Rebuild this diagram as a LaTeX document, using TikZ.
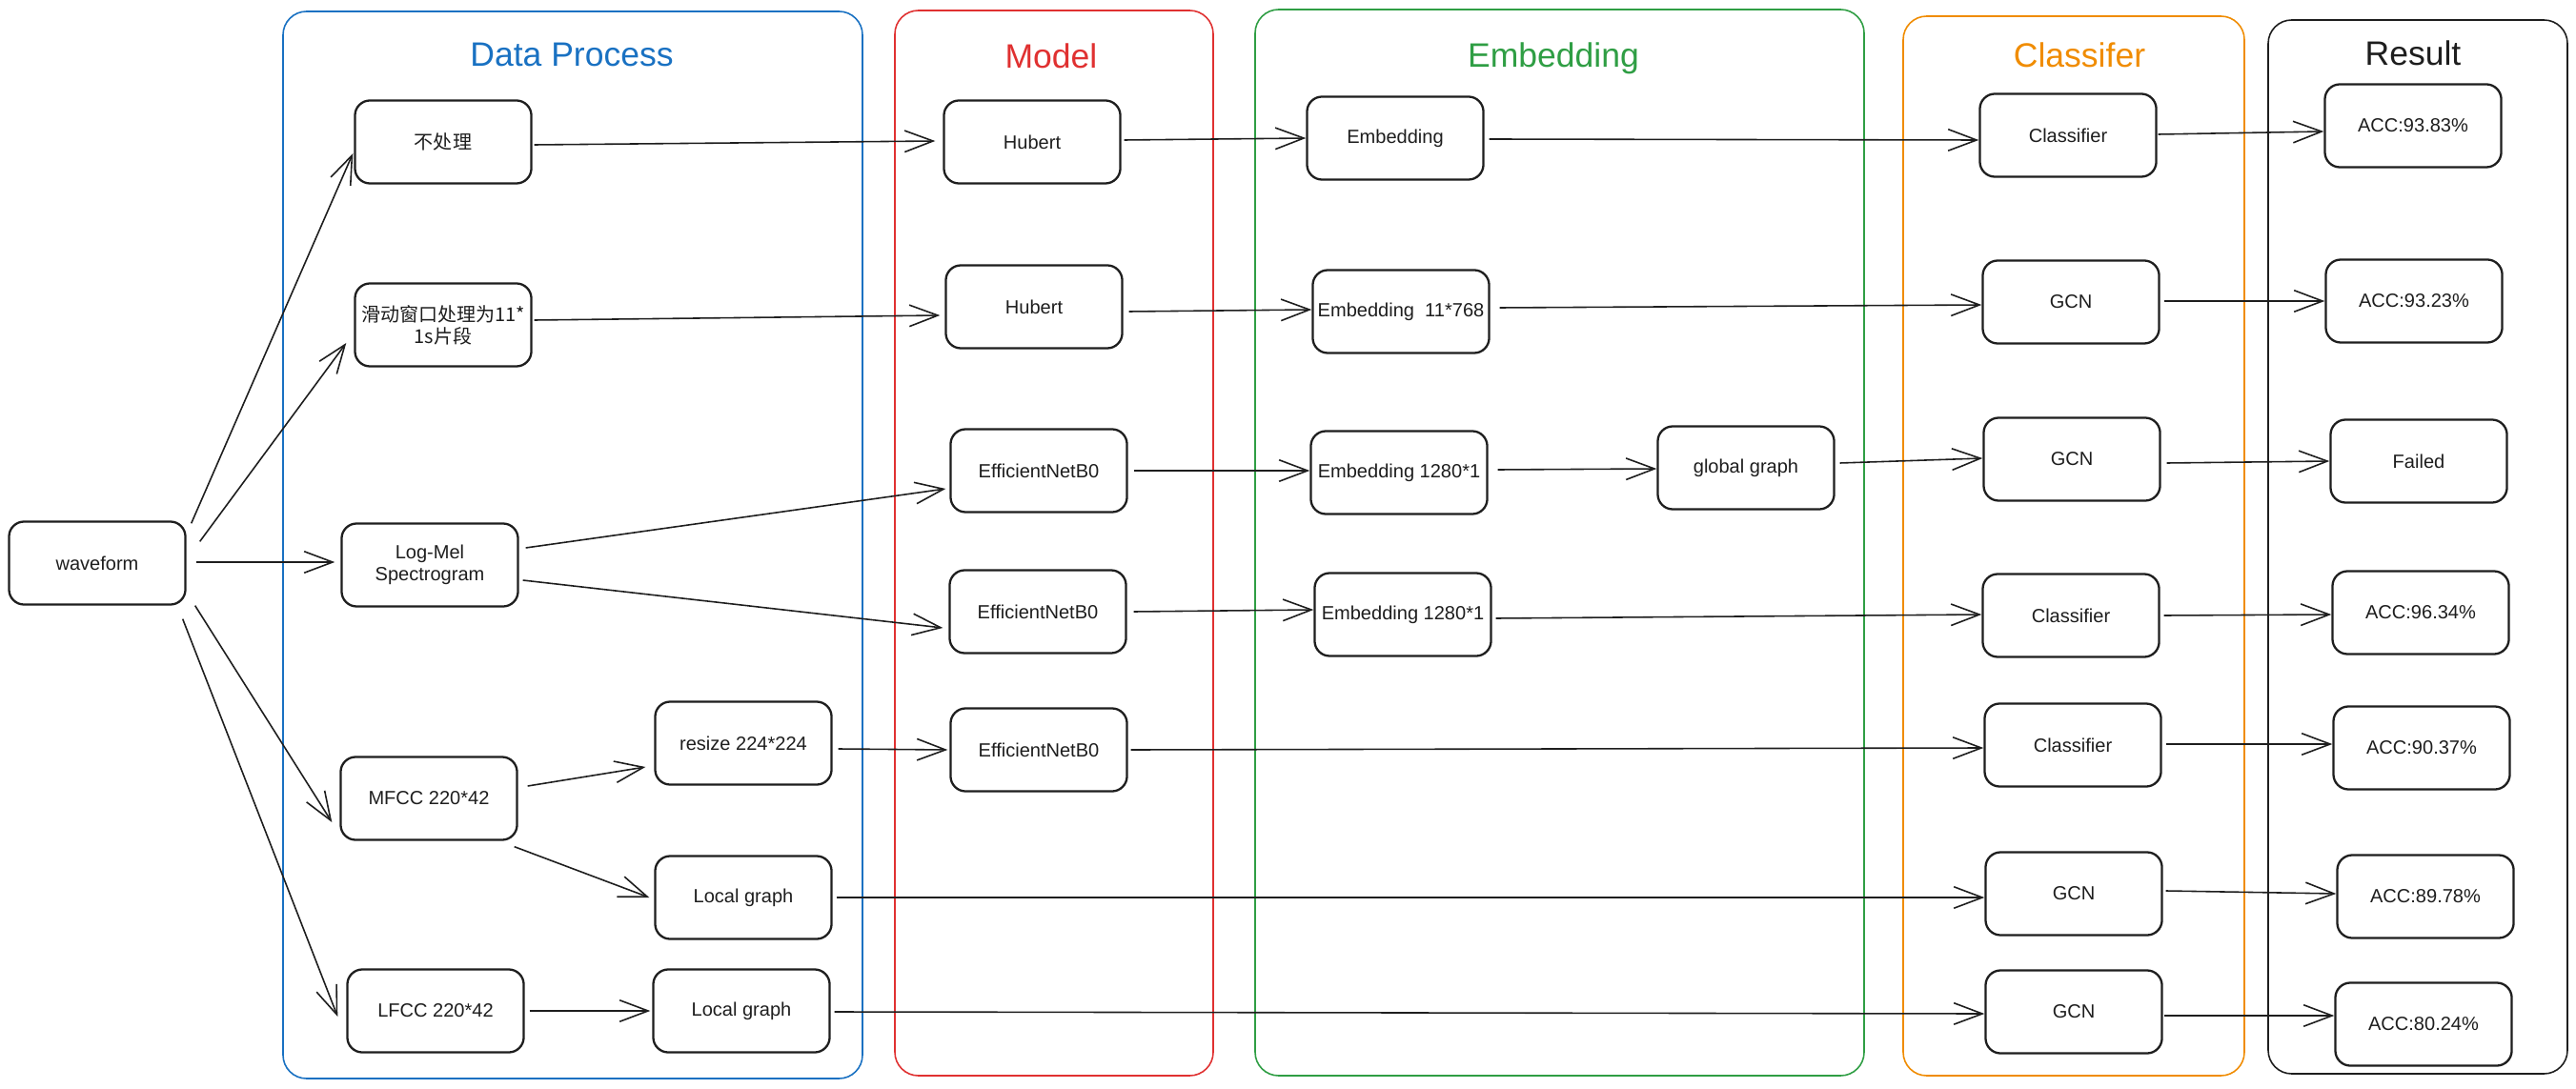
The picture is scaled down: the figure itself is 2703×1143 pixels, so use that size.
\documentclass[tikz,border=0pt]{standalone}
\usepackage{fontspec}
\setmainfont{Liberation Sans}
\newfontfamily\cjk{Noto Sans CJK SC}
\usetikzlibrary{arrows.meta}
\definecolor{exblue}{HTML}{1971C2}
\definecolor{exred}{HTML}{E03131}
\definecolor{exgreen}{HTML}{2F9E44}
\definecolor{exorange}{HTML}{F08C00}
\definecolor{ink}{HTML}{1E1E1E}
\begin{document}
\begin{tikzpicture}[x=0.01cm,y=-0.01cm,
  box/.style={draw=ink,line width=0.65pt,rounded corners=4.5pt,minimum width=1.85cm,minimum height=0.87cm,
              align=center,font=\fontsize{5.7}{6.6}\selectfont,text=ink,inner sep=1pt},
  lane/.style={line width=0.45pt,rounded corners=7pt},
  title/.style={font=\fontsize{10.1}{12}\selectfont,anchor=base},
  conn/.style={draw=ink,line width=0.45pt,-{Straight Barb[length=8.5pt,width=6.4pt]}},
]
\useasboundingbox[fill=white] (0,0) rectangle (2703,1143);

% lanes
\draw[lane,exblue]   (297,12)  rectangle (905,1132);
\draw[lane,exred]    (939,11)  rectangle (1273,1129);
\draw[lane,exgreen]  (1317,10) rectangle (1956,1129);
\draw[lane,exorange] (1997,17) rectangle (2355,1129);
\draw[lane,ink]      (2380,21) rectangle (2694,1127);

% titles
\node[title,text=exblue]   (tdp)  at (600,70)  {Data Process};
\node[title,text=exred]    (tmod) at (1103,72) {Model};
\node[title,text=exgreen]  (temb) at (1630,71) {Embedding};
\node[title,text=exorange] (tcls) at (2182,71) {Classifer};
\node[title,text=ink]      (tres) at (2532,69) {Result};

% data process
\node[box] (wave)   at (102,591)  {waveform};
\node[box] (np)     at (465,149)  {\cjk 不处理};
\node[box] (slide)  at (465,341)  {\cjk 滑动窗口处理为11*\\\cjk 1s片段};
\node[box] (logmel) at (451,593)  {Log-Mel\\Spectrogram};
\node[box] (mfcc)   at (450,838)  {MFCC 220*42};
\node[box] (resize) at (780,780)  {resize 224*224};
\node[box] (lg1)    at (780,942)  {Local graph};
\node[box] (lfcc)   at (457,1061) {LFCC 220*42};
\node[box] (lg2)    at (778,1061) {Local graph};

% model
\node[box] (hub1) at (1083,149) {Hubert};
\node[box] (hub2) at (1085,322) {Hubert};
\node[box] (eff1) at (1090,494) {EfficientNetB0};
\node[box] (eff2) at (1089,642) {EfficientNetB0};
\node[box] (eff3) at (1090,787) {EfficientNetB0};

% embedding
\node[box] (emb)  at (1464,145) {Embedding};
\node[box] (emb2) at (1470,327) {Embedding~~11*768};
\node[box] (emb3) at (1468,496) {Embedding 1280*1};
\node[box] (gg)   at (1832,491) {global graph};
\node[box] (emb4) at (1472,645) {Embedding 1280*1};

% classifier
\node[box] (cls1) at (2170,142)  {Classifier};
\node[box] (gcn1) at (2173,317)  {GCN};
\node[box] (gcn2) at (2174,482)  {GCN};
\node[box] (cls2) at (2173,646)  {Classifier};
\node[box] (cls3) at (2175,782)  {Classifier};
\node[box] (gcn3) at (2176,938)  {GCN};
\node[box] (gcn4) at (2176,1062) {GCN};

% results
\node[box] (r1) at (2532,132)  {ACC:93.83\%};
\node[box] (r2) at (2533,316)  {ACC:93.23\%};
\node[box] (r3) at (2538,484)  {Failed};
\node[box] (r4) at (2540,643)  {ACC:96.34\%};
\node[box] (r5) at (2541,785)  {ACC:90.37\%};
\node[box] (r6) at (2545,941)  {ACC:89.78\%};
\node[box] (r7) at (2543,1075) {ACC:80.24\%};

% connectors from waveform
\draw[conn] ([shift={(5,3)}]wave.north east)   -- ([shift={(-1,12)}]np.west);
\draw[conn] ([shift={(14,22)}]wave.north east) -- ([shift={(-8,19)}]slide.west);
\draw[conn] ([shift={(10,-1)}]wave.east)       -- ([shift={(-6,-3)}]logmel.west);
\draw[conn] ([shift={(9,0)}]wave.south east)   -- ([shift={(-8,25)}]mfcc.west);
\draw[conn] ([shift={(-4,14)}]wave.south east) -- ([shift={(-9,6)}]lfcc.west);

% data process -> model / next
\draw[conn] ([shift={(2,3)}]np.east)      -- ([shift={(-8,-1)}]hub1.west);
\draw[conn] ([shift={(2,-5)}]slide.east)  -- ([shift={(-5,9)}]hub2.west);
\draw[conn] ([shift={(7,-18)}]logmel.east) -- ([shift={(-4,19)}]eff1.west);
\draw[conn] ([shift={(4,16)}]logmel.east) -- ([shift={(-6,17)}]eff2.west);
\draw[conn] ([shift={(10,-13)}]mfcc.east) -- ([shift={(-9,25)}]resize.west);
\draw[conn] ([shift={(-4,6)}]mfcc.south east) -- ([shift={(-5,0)}]lg1.west);
\draw[conn] ([shift={(5,0)}]lfcc.east)    -- ([shift={(-2,0)}]lg2.west);
\draw[conn] ([shift={(6,6)}]resize.east)  -- ([shift={(-2,0)}]eff3.west);

% model -> embedding / classifier
\draw[conn] ([shift={(3,-2)}]hub1.east) -- (emb.west);
\draw[conn] ([shift={(6,5)}]hub2.east)  -- ([shift={(0,-2)}]emb2.west);
\draw[conn] ([shift={(6,0)}]eff1.east)  -- ([shift={(0,-2)}]emb3.west);
\draw[conn] ([shift={(7,0)}]eff2.east)  -- ([shift={(0,-5)}]emb4.west);
\draw[conn] ([shift={(3,0)}]eff3.east)  -- ([shift={(0,3)}]cls3.west);

% embedding -> classifier
\draw[conn] ([shift={(10,-3)}]emb3.east) -- ([shift={(0,1)}]gg.west);
\draw[conn] ([shift={(5,1)}]emb.east)    -- ([shift={(0,5)}]cls1.west);
\draw[conn] ([shift={(10,-4)}]emb2.east) -- ([shift={(0,3)}]gcn1.west);
\draw[conn] ([shift={(5,-5)}]gg.east)    -- ([shift={(0,-1)}]gcn2.west);
\draw[conn] ([shift={(4,4)}]emb4.east)   -- ([shift={(0,-1)}]cls2.west);
\draw[conn] ([shift={(4,0)}]lg1.east)    -- ([shift={(0,4)}]gcn3.west);
\draw[conn] ([shift={(4,1)}]lg2.east)    -- ([shift={(0,2)}]gcn4.west);

% classifier -> results
\draw[conn] ([shift={(1,-1)}]cls1.east) -- ([shift={(0,6)}]r1.west);
\draw[conn] ([shift={(4,-1)}]gcn1.east) -- (r2.west);
\draw[conn] ([shift={(6,4)}]gcn2.east)  -- (r3.west);
\draw[conn] ([shift={(4,0)}]cls2.east)  -- ([shift={(0,2)}]r4.west);
\draw[conn] ([shift={(4,-1)}]cls3.east) -- ([shift={(0,-4)}]r5.west);
\draw[conn] ([shift={(3,-3)}]gcn3.east) -- ([shift={(0,-3)}]r6.west);
\draw[conn] ([shift={(1,4)}]gcn4.east)  -- ([shift={(0,-9)}]r7.west);
\end{tikzpicture}
\end{document}
